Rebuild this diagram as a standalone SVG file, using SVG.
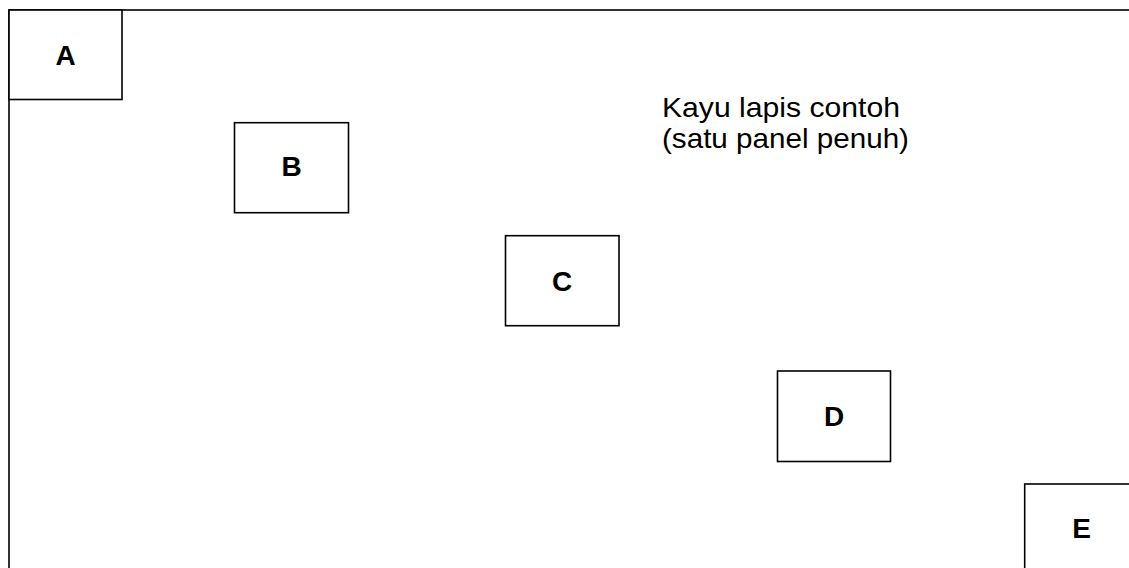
<svg xmlns="http://www.w3.org/2000/svg" width="1129" height="568" viewBox="0 0 1129 568">
<style>
.box{fill:#fff;stroke:#000;stroke-width:1.6}
.frame{fill:none;stroke:#000;stroke-width:1.6}
.lbl{font-family:"Liberation Sans",Arial,sans-serif;font-weight:bold;font-size:28px;fill:#000;text-anchor:middle}
.note{font-family:"Liberation Sans",Arial,sans-serif;font-size:28px;fill:#000}
</style>
<rect width="1129" height="568" fill="#fff"/>
<g id="panel">
<rect class="frame" x="9" y="10" width="1200" height="620"/>
<text class="note" x="662" y="116.7" textLength="238" lengthAdjust="spacingAndGlyphs">Kayu lapis contoh</text>
<text class="note" x="662" y="148.3" textLength="247" lengthAdjust="spacingAndGlyphs">(satu panel penuh)</text>
</g>
<g id="connectors"/>
<g id="A">
<rect class="box" x="9" y="10" width="113" height="89.5"/>
<text class="lbl" x="65.5" y="65">A</text>
</g>
<g id="B">
<rect class="box" x="234.5" y="122.7" width="114" height="90"/>
<text class="lbl" x="291.5" y="176">B</text>
</g>
<g id="C">
<rect class="box" x="505.5" y="235.7" width="113.5" height="90"/>
<text class="lbl" x="562" y="291">C</text>
</g>
<g id="D">
<rect class="box" x="777.5" y="371" width="113" height="90.5"/>
<text class="lbl" x="834" y="426">D</text>
</g>
<g id="E">
<rect class="box" x="1024.7" y="484" width="113.5" height="90"/>
<text class="lbl" x="1081.5" y="538">E</text>
</g>
</svg>
